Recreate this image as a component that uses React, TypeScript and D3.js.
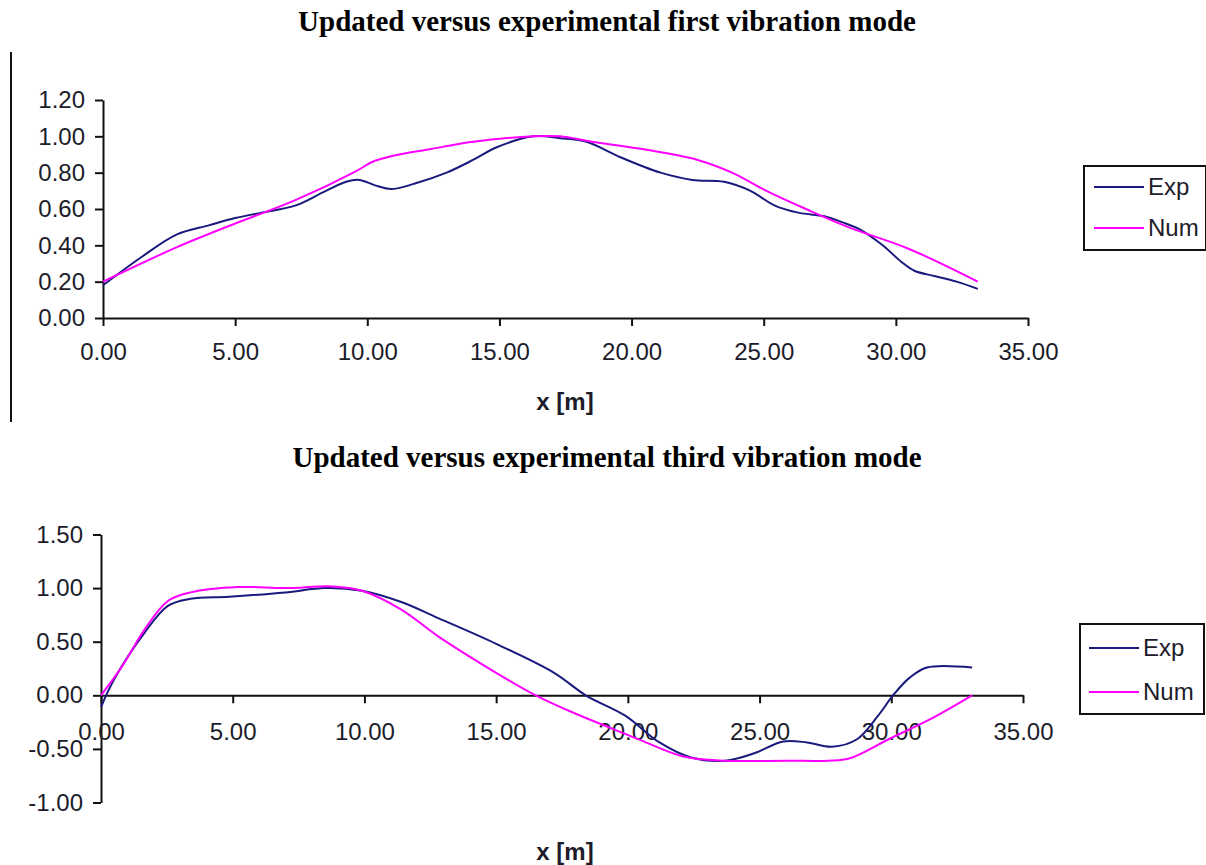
import React, { useEffect, useRef } from "react";
import * as d3 from "d3";

const WIDTH = 1206;
const HEIGHT = 865;

// series (x in m, normalised modal amplitude)
const expFirstX = [0, 1.5, 2.8, 4, 5, 6, 7.3, 8.3, 9.2, 9.7, 10.3, 10.9, 11.8, 13, 14, 14.9, 16.3, 17.3, 18.3, 19.5, 21.1, 22.3, 23.5, 24.5, 25.4, 26.3, 27.3, 28.1, 28.6, 29.5, 30.2, 30.7, 31.5, 32.3, 33.1];
const expFirstY = [0.18, 0.34, 0.46, 0.51, 0.55, 0.58, 0.62, 0.69, 0.75, 0.76, 0.73, 0.71, 0.74, 0.8, 0.87, 0.94, 1.0, 0.99, 0.97, 0.89, 0.8, 0.76, 0.75, 0.7, 0.62, 0.58, 0.56, 0.52, 0.49, 0.4, 0.31, 0.26, 0.23, 0.2, 0.16];
const numFirstX = [0, 2.8, 5, 7.3, 9.6, 10.2, 10.9, 12.4, 14, 16.3, 17.3, 18.5, 20.4, 22.5, 23.8, 25.1, 26.6, 28.2, 30.5, 33.1];
const numFirstY = [0.2, 0.39, 0.52, 0.65, 0.81, 0.86, 0.89, 0.93, 0.97, 1.0, 1.0, 0.97, 0.93, 0.87, 0.8, 0.7, 0.6, 0.5, 0.38, 0.2];

const expThirdX = [0, 0.5, 1.67, 2.54, 3.4, 4.86, 7.0, 8.5, 9.9, 11.4, 12.8, 15.0, 17.2, 18.4, 19.9, 21.2, 22.4, 23.7, 24.8, 25.9, 26.8, 27.75, 28.7, 29.5, 30.1, 30.7, 31.35, 33.07];
const expThirdY = [-0.11, 0.15, 0.59, 0.835, 0.9, 0.92, 0.96, 1.0, 0.975, 0.87, 0.72, 0.48, 0.21, 0.0, -0.19, -0.44, -0.58, -0.61, -0.54, -0.43, -0.44, -0.48, -0.41, -0.19, 0.01, 0.165, 0.26, 0.26];
const numThirdX = [0, 0.8, 1.67, 2.54, 3.4, 5.2, 7.0, 8.8, 9.9, 11.4, 12.8, 15.0, 16.5, 18.0, 19.5, 20.5, 22.1, 23.7, 26.0, 27.6, 28.4, 29.9, 31.5, 33.07];
const numThirdY = [0, 0.27, 0.62, 0.88, 0.96, 1.01, 1.0, 1.015, 0.975, 0.8, 0.55, 0.21, 0.0, -0.17, -0.32, -0.42, -0.57, -0.61, -0.61, -0.61, -0.59, -0.41, -0.22, 0];

const xTicks = [0, 5, 10, 15, 20, 25, 30, 35];
const firstYTicks = [0, 0.2, 0.4, 0.6, 0.8, 1.0, 1.2];
const thirdYTicks = [-1, -0.5, 0, 0.5, 1, 1.5];
const seriesNames = ["Exp", "Num"];
const seriesColors = ["#1a1a7e", "#ff00ff"];

const SANS = "'Liberation Sans', Arial, sans-serif";
const SERIF = "'Liberation Serif', 'Times New Roman', serif";

// plain hyphen for negatives, like the original
const fmt = (d) => Number(d).toFixed(2);

function drawPanel(svg, p) {
  const x = d3.scaleLinear().domain([0, 35]).range([p.left, p.right]);
  const y = d3.scaleLinear().domain(p.yDomain).range([p.bottom, p.top]);

  svg
    .append("text")
    .attr("x", 607)
    .attr("y", p.titleY)
    .attr("text-anchor", "middle")
    .attr("font-family", SERIF)
    .attr("font-weight", "bold")
    .attr("font-size", 29)
    .text(p.title);

  // y axis
  const ya = svg
    .append("g")
    .attr("transform", `translate(${p.left},0)`)
    .call(
      d3
        .axisLeft(y)
        .tickValues(p.yTicks)
        .tickSize(8)
        .tickSizeOuter(0)
        .tickPadding(10)
        .tickFormat(fmt),
    );

  // x axis sits on y = 0
  const xa = svg
    .append("g")
    .attr("transform", `translate(0,${y(0)})`)
    .call(
      d3
        .axisBottom(x)
        .tickValues(xTicks)
        .tickSize(8)
        .tickSizeOuter(0)
        .tickPadding(p.xPad)
        .tickFormat(fmt),
    );

  [ya, xa].forEach((g) => {
    g.selectAll("path, line").attr("stroke", "#111").attr("stroke-width", 2);
    g.selectAll("text")
      .attr("font-family", SANS)
      .attr("font-size", 24)
      .attr("fill", "#1c1c2a");
  });

  svg
    .append("text")
    .attr("x", 565)
    .attr("y", p.xLabelY)
    .attr("text-anchor", "middle")
    .attr("font-family", SANS)
    .attr("font-weight", "bold")
    .attr("font-size", 24)
    .attr("fill", "#1c1c2a")
    .text("x [m]");

  const line = d3
    .line()
    .x((d) => x(d[0]))
    .y((d) => y(d[1]))
    .curve(d3.curveCatmullRom.alpha(0.5));

  p.series.forEach((s, i) => {
    svg
      .append("path")
      .datum(d3.zip(s[0], s[1]))
      .attr("fill", "none")
      .attr("stroke", seriesColors[i])
      .attr("stroke-width", 2)
      .attr("d", line);
  });

  // legend
  const lg = p.legend;
  svg
    .append("rect")
    .attr("x", lg.x)
    .attr("y", lg.y)
    .attr("width", lg.w)
    .attr("height", lg.h)
    .attr("fill", "white")
    .attr("stroke", "#111")
    .attr("stroke-width", 2);

  seriesNames.forEach((name, i) => {
    const ly = lg.y + lg.firstRow + i * lg.rowGap;
    svg
      .append("line")
      .attr("x1", lg.x + lg.lineStart)
      .attr("x2", lg.x + lg.lineStart + 50)
      .attr("y1", ly)
      .attr("y2", ly)
      .attr("stroke", seriesColors[i])
      .attr("stroke-width", 2);
    svg
      .append("text")
      .attr("x", lg.x + lg.lineStart + 54)
      .attr("y", ly)
      .attr("dy", "0.35em")
      .attr("font-family", SANS)
      .attr("font-size", 24)
      .attr("fill", "#1c1c2a")
      .text(name);
  });
}

export default function App() {
  const ref = useRef(null);

  useEffect(() => {
    const svg = d3.select(ref.current);
    svg.selectAll("*").remove();

    svg.append("rect").attr("width", WIDTH).attr("height", HEIGHT).attr("fill", "white");

    // stray page border line on the left
    svg
      .append("line")
      .attr("x1", 11)
      .attr("x2", 11)
      .attr("y1", 52)
      .attr("y2", 422)
      .attr("stroke", "#111")
      .attr("stroke-width", 2);

    drawPanel(svg, {
      title: "Updated versus experimental first vibration mode",
      titleY: 31,
      left: 103,
      right: 1028,
      top: 100,
      bottom: 318,
      yDomain: [0, 1.2],
      yTicks: firstYTicks,
      xPad: 17,
      xLabelY: 410,
      series: [
        [expFirstX, expFirstY],
        [numFirstX, numFirstY],
      ],
      legend: { x: 1084, y: 166, w: 122, h: 84, firstRow: 21, rowGap: 41, lineStart: 10 },
    });

    drawPanel(svg, {
      title: "Updated versus experimental third vibration mode",
      titleY: 467,
      left: 101,
      right: 1023,
      top: 534.5,
      bottom: 802.5,
      yDomain: [-1, 1.5],
      yTicks: thirdYTicks,
      xPad: 20,
      xLabelY: 860,
      series: [
        [expThirdX, expThirdY],
        [numThirdX, numThirdY],
      ],
      legend: { x: 1080, y: 624, w: 124, h: 90, firstRow: 24, rowGap: 44, lineStart: 9 },
    });
  }, []);

  return (
    <svg
      ref={ref}
      width={WIDTH}
      height={HEIGHT}
      style={{ position: "absolute", left: 0, top: 0, display: "block" }}
    />
  );
}
